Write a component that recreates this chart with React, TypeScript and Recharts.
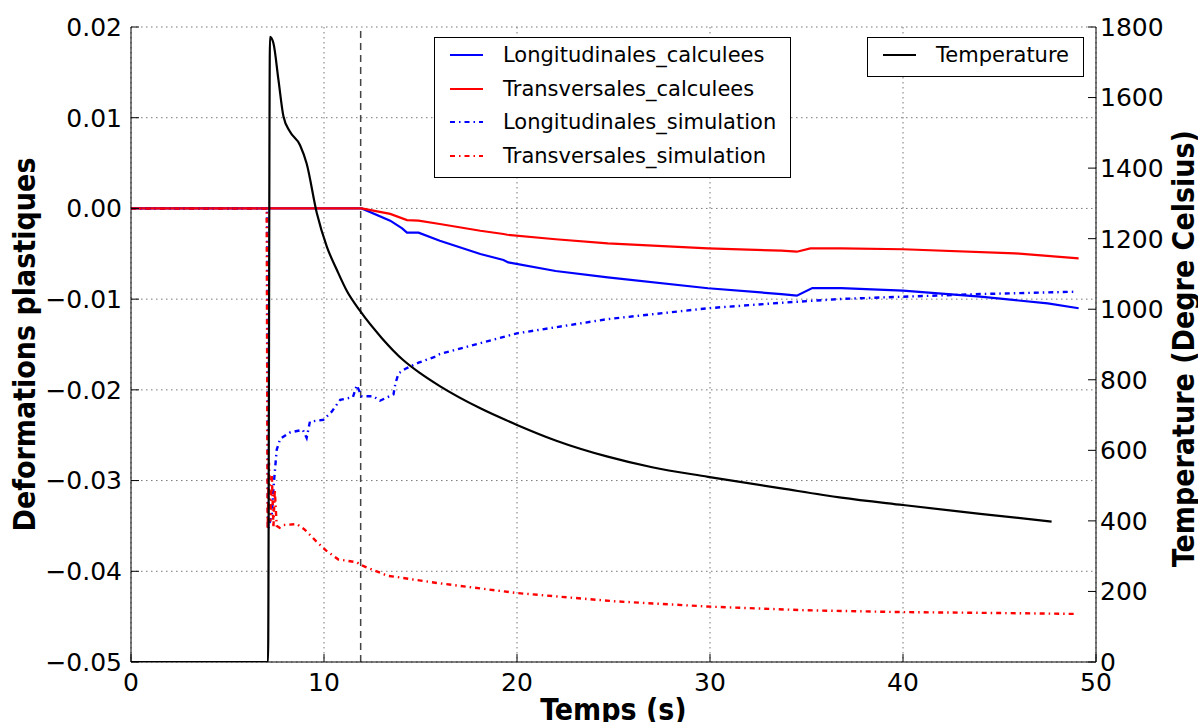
import React from "react";
import { LineChart, Line, XAxis, YAxis, CartesianGrid, ReferenceLine, Label } from "recharts";

// axes
const timeTicks = [0, 10, 20, 30, 40, 50];
const strainTicks = [-0.05, -0.04, -0.03, -0.02, -0.01, 0, 0.01, 0.02];
const tempTicks = [0, 200, 400, 600, 800, 1000, 1200, 1400, 1600, 1800];
const coolingStart = 11.9;

// Temperature (right axis)
const tempTime = [0, 7.1, 7.2, 7.38, 7.64, 7.9, 8.24, 8.76, 9.1, 9.63, 10.15, 10.67, 11.2, 11.87, 13, 14.1, 15, 16, 18.1, 20, 22, 24.7, 27, 29.9, 33.7, 36.8, 40, 44, 47.7];
const tempValues = [0, 0, 1772, 1754, 1650, 1546, 1503, 1465, 1413, 1272, 1177, 1111, 1050, 995, 918, 856, 818, 782, 719, 672, 628, 582, 552, 525, 492, 466, 445, 420, 398];

// Longitudinales_calculees
const longCalcTime = [0, 11.95, 13.43, 14.05, 14.3, 14.9, 16, 18.1, 19.3, 19.55, 22, 24.7, 29.9, 33.7, 34.5, 35.3, 36.8, 40, 44, 47.5, 49.1];
const longCalcValues = [0, 0, -0.00135, -0.0022, -0.00267, -0.00267, -0.00356, -0.00503, -0.00569, -0.00595, -0.0069, -0.0076, -0.0088, -0.00944, -0.00962, -0.00878, -0.00878, -0.00907, -0.00973, -0.01047, -0.011];

// Transversales_calculees
const transCalcTime = [0, 11.95, 13.43, 14.3, 14.9, 16, 18.1, 19.3, 19.5, 22, 24.7, 29.9, 33.7, 34.5, 35.2, 36.8, 40, 45.8, 49.1];
const transCalcValues = [0, 0, -0.0006, -0.00128, -0.00135, -0.00172, -0.00246, -0.00282, -0.0029, -0.0034, -0.00385, -0.0044, -0.00466, -0.00477, -0.0044, -0.0044, -0.0045, -0.00495, -0.0055];

// Longitudinales_simulation
const longSimTime = [0, 7.05, 7.1, 7.3, 7.4, 7.55, 7.73, 8.24, 8.9, 9.1, 9.27, 9.97, 10.4, 10.84, 11.5, 11.7, 11.95, 12.55, 12.9, 13.6, 13.7, 13.86, 14.2, 14.9, 15.7, 16, 20, 24.7, 29.9, 33.7, 36.8, 40, 44, 49];
const longSimValues = [0, 0, -0.0354, -0.0336, -0.0303, -0.0266, -0.0254, -0.0247, -0.0244, -0.0253, -0.0235, -0.0233, -0.0224, -0.0211, -0.0208, -0.0195, -0.0207, -0.0207, -0.0212, -0.0205, -0.0193, -0.0182, -0.0177, -0.017, -0.0164, -0.01605, -0.01377, -0.0122, -0.011, -0.0104, -0.00998, -0.00973, -0.00944, -0.00918];

// Transversales_simulation
const transSimTime = [0, 7.03, 7.08, 7.15, 7.22, 7.3, 7.38, 7.45, 7.55, 7.7, 7.9, 8.6, 9.0, 9.6, 10.1, 10.75, 11.7, 11.9, 12.6, 13.3, 14, 14.6, 15.9, 20, 25, 30, 35, 40, 45, 49];
const transSimValues = [0, 0, -0.0354, -0.028, -0.0345, -0.0295, -0.0352, -0.031, -0.035, -0.0352, -0.0349, -0.0348, -0.0354, -0.0367, -0.0377, -0.0387, -0.039, -0.0393, -0.0399, -0.0405, -0.0407, -0.0409, -0.0413, -0.0424, -0.0433, -0.0439, -0.0443, -0.0445, -0.0446, -0.0447];

const toRows = (t: number[], v: number[]) => t.map((x, i) => ({ t: x, v: v[i] }));

const tickFont = { fontFamily: "DejaVu Sans", fontSize: 25, fill: "#000" };
const titleStyle = { fontFamily: "'DejaVu Sans Condensed', 'DejaVu Sans'", fontWeight: 700, fontSize: 30, fill: "#000" };
const dashDot = "5 4 1.5 4";

const fmtStrain = (v: number) => v.toFixed(2).replace("-", "\u2212").replace("\u22120.00", "0.00");

const LeftTitle = (props: any) => {
  const { viewBox } = props;
  const cx = viewBox.x + 24;
  const cy = viewBox.y + viewBox.height / 2;
  return (
    <text x={cx} y={cy} transform={`rotate(-90 ${cx} ${cy})`} textAnchor="middle" dominantBaseline="central" style={titleStyle}>
      Deformations plastiques
    </text>
  );
};

const RightTitle = (props: any) => {
  const { viewBox } = props;
  const cx = viewBox.x + 87;
  const cy = viewBox.y + viewBox.height / 2 + 4;
  return (
    <text x={cx} y={cy} transform={`rotate(-90 ${cx} ${cy})`} textAnchor="middle" dominantBaseline="central" style={titleStyle}>
      Temperature (Degre Celsius)
    </text>
  );
};

const BottomTitle = (props: any) => {
  const { viewBox } = props;
  return (
    <text x={viewBox.x + viewBox.width / 2} y={viewBox.y + 47} textAnchor="middle" dominantBaseline="central" style={titleStyle}>
      Temps (s)
    </text>
  );
};

const legendRows = [
  { name: "Longitudinales_calculees", color: "#0000ff", dash: undefined },
  { name: "Transversales_calculees", color: "#ff0000", dash: undefined },
  { name: "Longitudinales_simulation", color: "#0000ff", dash: dashDot },
  { name: "Transversales_simulation", color: "#ff0000", dash: dashDot },
];

function LegendBox({ left, top, width, rows }: { left: number; top: number; width: number; rows: { name: string; color: string; dash?: string }[] }) {
  return (
    <div
      style={{
        position: "absolute",
        left,
        top,
        width,
        border: "1px solid #000",
        background: "#fff",
        padding: "0 0 4px 0",
        fontFamily: "DejaVu Sans",
        fontSize: 21,
        color: "#000",
      }}
    >
      {rows.map((r) => (
        <div key={r.name} style={{ display: "flex", alignItems: "center", height: 33.7 }}>
          <svg width={68} height={10} style={{ flex: "none" }}>
            <line x1={15} x2={48} y1={5} y2={5} stroke={r.color} strokeWidth={2} strokeDasharray={r.dash} />
          </svg>
          <span>{r.name}</span>
        </div>
      ))}
    </div>
  );
}

export default function App() {
  return (
    <div style={{ position: "absolute", left: 0, top: 0, width: 1198, height: 722, background: "#fff" }}>
      <LineChart width={1198} height={722} margin={{ top: 27, right: 0, bottom: 0, left: 0 }}>
        <CartesianGrid xAxisId="bottom" yAxisId="left" stroke="#777" strokeDasharray="1.5 3.5" />
        <XAxis
          xAxisId="bottom"
          dataKey="t"
          type="number"
          domain={[0, 50]}
          ticks={timeTicks}
          allowDataOverflow
          height={60}
          tick={tickFont}
          tickSize={-8}
          tickMargin={19}
          axisLine={{ stroke: "#000" }}
          tickLine={{ stroke: "#000" }}
        >
          <Label content={BottomTitle} />
        </XAxis>
        <XAxis
          xAxisId="top"
          orientation="top"
          type="number"
          domain={[0, 50]}
          ticks={timeTicks}
          height={0}
          tickFormatter={() => ""}
          tickSize={-8}
          axisLine={{ stroke: "#000" }}
          tickLine={{ stroke: "#000" }}
        />
        <YAxis
          yAxisId="left"
          type="number"
          domain={[-0.05, 0.02]}
          ticks={strainTicks}
          allowDataOverflow
          width={131}
          tick={tickFont}
          tickFormatter={fmtStrain}
          tickSize={-8}
          tickMargin={17}
          axisLine={{ stroke: "#000" }}
          tickLine={{ stroke: "#000" }}
        >
          <Label content={LeftTitle} />
        </YAxis>
        <YAxis
          yAxisId="right"
          orientation="right"
          type="number"
          domain={[0, 1800]}
          ticks={tempTicks}
          allowDataOverflow
          width={102}
          tick={{ ...tickFont, textAnchor: "start" }}
          tickSize={-8}
          tickMargin={12}
          axisLine={{ stroke: "#000" }}
          tickLine={{ stroke: "#000" }}
        >
          <Label content={RightTitle} />
        </YAxis>
        <ReferenceLine xAxisId="bottom" yAxisId="left" x={coolingStart} stroke="#444" strokeWidth={1.5} strokeDasharray="7 5" />
        <Line data={toRows(longCalcTime, longCalcValues)} xAxisId="bottom" yAxisId="left" dataKey="v" type="linear" stroke="#0000ff" strokeWidth={2.2} dot={false} isAnimationActive={false} />
        <Line data={toRows(transCalcTime, transCalcValues)} xAxisId="bottom" yAxisId="left" dataKey="v" type="linear" stroke="#ff0000" strokeWidth={2.2} dot={false} isAnimationActive={false} />
        <Line data={toRows(longSimTime, longSimValues)} xAxisId="bottom" yAxisId="left" dataKey="v" type="linear" stroke="#0000ff" strokeWidth={2.4} strokeDasharray={dashDot} dot={false} isAnimationActive={false} />
        <Line data={toRows(transSimTime, transSimValues)} xAxisId="bottom" yAxisId="left" dataKey="v" type="linear" stroke="#ff0000" strokeWidth={2.4} strokeDasharray={dashDot} dot={false} isAnimationActive={false} />
        <Line data={toRows(tempTime, tempValues)} xAxisId="bottom" yAxisId="right" dataKey="v" type="monotone" stroke="#000" strokeWidth={2.2} dot={false} isAnimationActive={false} />
      </LineChart>
      <LegendBox left={434} top={37} width={355} rows={legendRows} />
      <LegendBox left={867} top={37} width={215} rows={[{ name: "Temperature", color: "#000" }]} />
    </div>
  );
}
